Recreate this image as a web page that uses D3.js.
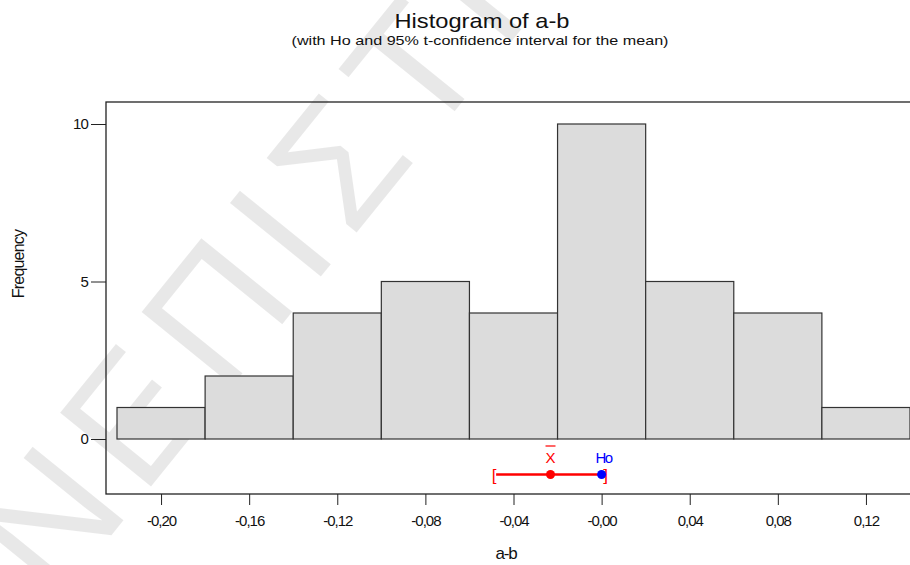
<!DOCTYPE html>
<html>
<head>
<meta charset="utf-8">
<script src="https://cdn.jsdelivr.net/npm/d3@7"></script>
<style>
  body { margin: 0; background: #fff; }
  text { font-family: "Liberation Sans", Arial, sans-serif; }
</style>
</head>
<body>
<script>
"use strict";

// data
var binStarts = [-0.22, -0.18, -0.14, -0.10, -0.06, -0.02, 0.02, 0.06, 0.10];
var counts = [1, 2, 4, 5, 4, 10, 5, 4, 1];
var binWidth = 0.04;
var xTicks = [-0.20, -0.16, -0.12, -0.08, -0.04, 0.00, 0.04, 0.08, 0.12];
var xTickLabels = ["-0,20", "-0,16", "-0,12", "-0,08", "-0,04", "-0,00", "0,04", "0,08", "0,12"];
var yTicks = [0, 5, 10];
var ciValues = [-0.0488, -0.0232, 0.0018]; // lower, mean, upper
var h0Value = 0;

var W = 910, H = 565;
var frame = {left: 106, top: 102, right: 916, bottom: 494};

var svg = d3.select('body').append('svg')
  .attr('width', W)
  .attr('height', H);

// watermark behind the chart
svg.append('text')
  .attr('transform', 'translate(55,605) rotate(-51)')
  .attr('font-size', 170)
  .attr('font-family', 'DejaVu Sans')
  .attr('letter-spacing', 16)
  .attr('fill', '#000')
  .attr('fill-opacity', 0.09)
  .text('ΝΕΠΙΣΤΗΜΙΟ');

var x = d3.scaleLinear().domain([-0.22, 0.14]).range([117, 910]);
var y = d3.scaleLinear().domain([0, 10]).range([439, 124]);

// frame
svg.append('rect')
  .attr('x', frame.left)
  .attr('y', frame.top)
  .attr('width', frame.right - frame.left)
  .attr('height', frame.bottom - frame.top)
  .attr('fill', 'none')
  .attr('stroke', '#222')
  .attr('stroke-width', 1.3);

// bars
svg.append('g').selectAll('rect')
  .data(counts)
  .enter().append('rect')
  .attr('x', function(d, i) { return x(binStarts[i]); })
  .attr('y', function(d) { return y(d); })
  .attr('width', function(d, i) { return x(binStarts[i] + binWidth) - x(binStarts[i]); })
  .attr('height', function(d) { return y(0) - y(d); })
  .attr('fill', '#dcdcdc')
  .attr('stroke', '#333')
  .attr('stroke-width', 1.2);

// y axis
var yAxis = d3.axisLeft(y).tickValues(yTicks).tickSize(15).tickPadding(3)
  .tickFormat(d3.format('d'));
var gy = svg.append('g')
  .attr('transform', 'translate(' + frame.left + ',0)')
  .call(yAxis);
gy.select('.domain').remove();
gy.selectAll('.tick line').attr('stroke', '#222');
gy.selectAll('.tick text')
  .attr('font-size', 15)
  .attr('font-family', '"Liberation Sans", Arial, sans-serif')
  .attr('letter-spacing', -0.8)
  .attr('fill', '#111');

// x axis
var xAxis = d3.axisBottom(x).tickValues(xTicks).tickSize(11).tickPadding(10)
  .tickFormat(function(d, i) { return xTickLabels[i]; });
var gx = svg.append('g')
  .attr('transform', 'translate(0,' + frame.bottom + ')')
  .call(xAxis);
gx.select('.domain').remove();
gx.selectAll('.tick line').attr('stroke', '#222');
gx.selectAll('.tick text')
  .attr('font-size', 15)
  .attr('font-family', '"Liberation Sans", Arial, sans-serif')
  .attr('letter-spacing', -1)
  .attr('fill', '#111');

// confidence interval and Ho
var ciY = 474.5;
svg.append('line')
  .attr('x1', x(ciValues[0]) + 2).attr('x2', x(ciValues[2]) - 2)
  .attr('y1', ciY).attr('y2', ciY)
  .attr('stroke', '#f00')
  .attr('stroke-width', 2.5);
svg.append('text')
  .attr('x', x(ciValues[0])).attr('y', ciY + 6)
  .attr('text-anchor', 'middle')
  .attr('font-size', 17).attr('fill', '#f00')
  .text('[');
svg.append('text')
  .attr('x', x(ciValues[2])).attr('y', ciY + 6)
  .attr('text-anchor', 'middle')
  .attr('font-size', 17).attr('fill', '#f00')
  .text(']');
svg.append('circle')
  .attr('cx', x(ciValues[1])).attr('cy', ciY).attr('r', 4.5)
  .attr('fill', '#f00');
svg.append('circle')
  .attr('cx', x(h0Value)).attr('cy', ciY).attr('r', 4.5)
  .attr('fill', '#00f');
svg.append('text')
  .attr('x', x(ciValues[1])).attr('y', 463)
  .attr('text-anchor', 'middle')
  .attr('font-size', 15).attr('fill', '#f00')
  .text('X');
svg.append('line')
  .attr('x1', x(ciValues[1]) - 5).attr('x2', x(ciValues[1]) + 5)
  .attr('y1', 446).attr('y2', 446)
  .attr('stroke', '#f00').attr('stroke-width', 1.2);
svg.append('text')
  .attr('x', x(h0Value) + 2).attr('y', 463)
  .attr('text-anchor', 'middle')
  .attr('font-size', 15).attr('letter-spacing', -1.5).attr('fill', '#00f')
  .text('Ho');

// titles
svg.append('text')
  .attr('x', 482).attr('y', 28)
  .attr('text-anchor', 'middle')
  .attr('font-size', 21)
  .attr('textLength', 175).attr('lengthAdjust', 'spacingAndGlyphs')
  .attr('fill', '#111')
  .text('Histogram of a-b');
svg.append('text')
  .attr('x', 480).attr('y', 45)
  .attr('text-anchor', 'middle')
  .attr('font-size', 13)
  .attr('textLength', 377).attr('lengthAdjust', 'spacingAndGlyphs')
  .attr('fill', '#111')
  .text('(with Ho and 95% t-confidence interval for the mean)');

svg.append('text')
  .attr('transform', 'translate(24,264) rotate(-90)')
  .attr('text-anchor', 'middle')
  .attr('font-size', 16)
  .attr('letter-spacing', -0.8)
  .attr('fill', '#111')
  .text('Frequency');

svg.append('text')
  .attr('x', 506).attr('y', 559)
  .attr('text-anchor', 'middle')
  .attr('font-size', 17)
  .attr('letter-spacing', -1.2)
  .attr('fill', '#111')
  .text('a-b');
</script>
</body>
</html>
